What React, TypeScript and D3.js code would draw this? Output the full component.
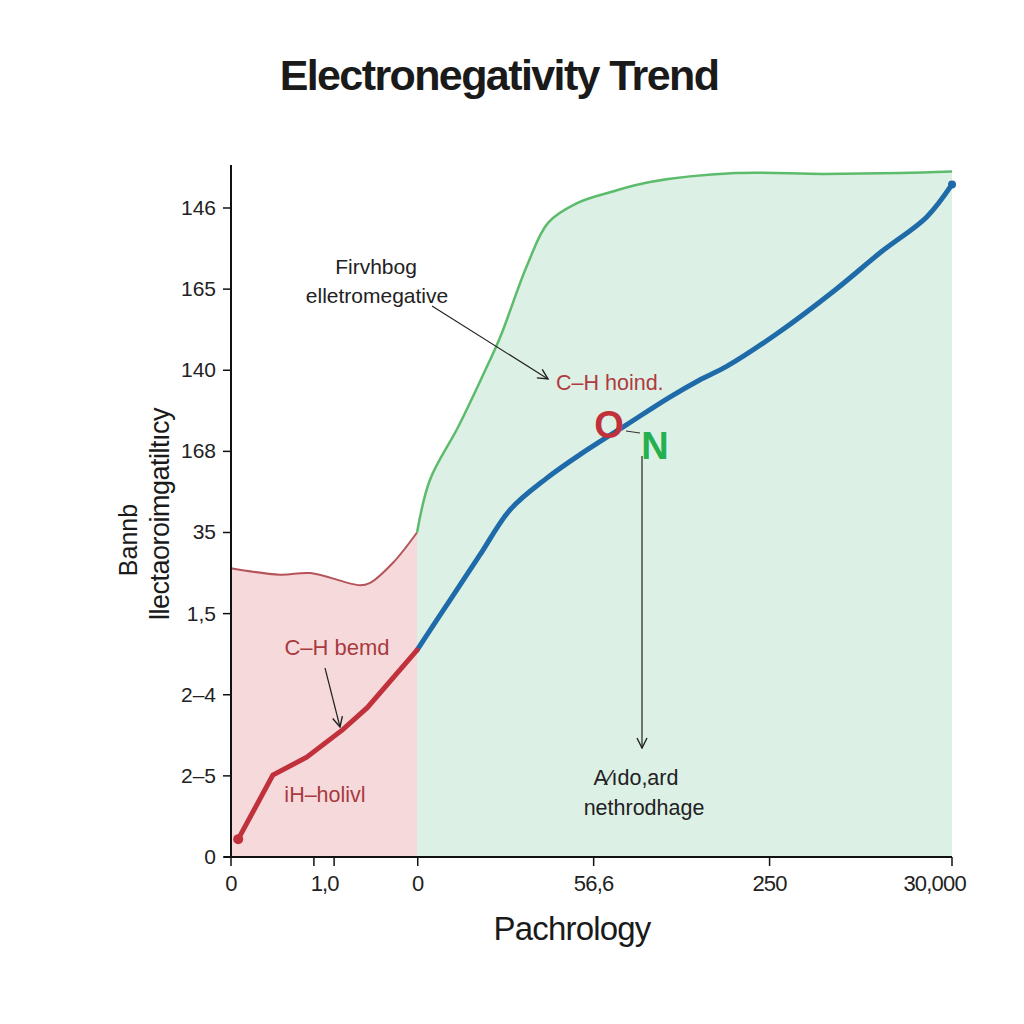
import React from "react";
import * as d3 from "d3";

const yTickValues = [0, 1, 2, 3, 4, 5, 6, 7, 8];
const yTickLabels = ["0", "2–5", "2–4", "1,5", "35", "168", "140", "165", "146"];
const xTickValues = [0, 11.5, 14.3, 25.9, 50.3, 74.7, 100];
const xLabelPos = [0, 13, 25.9, 50.3, 74.7, 97.6];
const xLabelText = ["0", "1,0", "0", "56,6", "250", "30,000"];

const redAreaTop: [number, number][] = [
  [0, 3.56], [6.8, 3.48], [11.0, 3.5], [17.9, 3.35], [19.3, 3.38], [22.5, 3.63], [25.8, 4.0],
];
const greenTop: [number, number][] = [
  [25.8, 4.0], [27.6, 4.65], [31.5, 5.3], [35.0, 5.95], [37.3, 6.4], [41.1, 7.3], [44.0, 7.82],
  [48.0, 8.06], [52.8, 8.2], [58.1, 8.32], [69.9, 8.43], [82.1, 8.42], [92.8, 8.43], [100, 8.45],
];
const blueLine: [number, number][] = [
  [25.8, 2.55], [30.4, 3.17], [34.5, 3.72], [38.7, 4.28], [43.8, 4.67], [48.4, 4.96],
  [54.9, 5.33], [60.7, 5.66], [65.0, 5.88], [68.8, 6.05], [75.7, 6.45], [83.8, 6.99],
  [90.2, 7.46], [96.5, 7.89], [100, 8.29],
];
const redLine: [number, number][] = [
  [1.0, 0.22], [5.8, 1.01], [10.5, 1.23], [15.5, 1.57], [18.9, 1.84], [25.8, 2.55],
];

export default function App() {
  const W = 1024, H = 1024;
  const x = d3.scaleLinear().domain([0, 100]).range([231, 952]);
  const y = d3.scaleLinear().domain([0, 8.53]).range([857, 165]);
  const smooth = d3.line<[number, number]>().x(d => x(d[0])).y(d => y(d[1])).curve(d3.curveCatmullRom.alpha(0.5));
  const lin = d3.line<[number, number]>().x(d => x(d[0])).y(d => y(d[1])).curve(d3.curveLinear);
  const area = d3.area<[number, number]>().x(d => x(d[0])).y0(y(0)).y1(d => y(d[1])).curve(d3.curveCatmullRom.alpha(0.5));
  const font = "'Liberation Sans', Arial, sans-serif";
  const last = blueLine[blueLine.length - 1];
  const first = redLine[0];
  return (
    <svg width={W} height={H} style={{ display: "block", position: "absolute", left: 0, top: 0 }} fontFamily={font}>
      <defs>
        <marker id="arr" viewBox="0 0 12 12" refX="11" refY="6" markerWidth="12" markerHeight="12" markerUnits="userSpaceOnUse" orient="auto">
          <path d="M1,1 L11,6 L1,11" fill="none" stroke="#222" strokeWidth="1.4" />
        </marker>
      </defs>
      <rect width={W} height={H} fill="#ffffff" />
      <text x={499} y={90} textAnchor="middle" fontSize={43} fontWeight="bold" letterSpacing={-1.6} fill="#1a1a1a">Electronegativity Trend</text>

      <path d={area(redAreaTop) || ""} fill="#f6dadb" />
      <path d={area(greenTop) || ""} fill="#dcf0e5" />
      <path d={smooth(redAreaTop) || ""} fill="none" stroke="#b5545a" strokeWidth={2} />
      <path d={smooth(greenTop) || ""} fill="none" stroke="#5dbb6c" strokeWidth={2.5} />
      <path d={smooth(blueLine) || ""} fill="none" stroke="#1f6aa8" strokeWidth={5} strokeLinecap="round" />
      <path d={lin(redLine) || ""} fill="none" stroke="#c1313c" strokeWidth={5} strokeLinecap="round" />
      <circle cx={x(first[0])} cy={y(first[1])} r={5} fill="#c1313c" />
      <circle cx={x(last[0])} cy={y(last[1])} r={4} fill="#1f6aa8" />

      {/* axes */}
      <line x1={231} x2={231} y1={y(8.53)} y2={y(0) + 1} stroke="#111" strokeWidth={2} />
      <line x1={224} x2={952} y1={y(0)} y2={y(0)} stroke="#111" strokeWidth={2} />
      {yTickValues.map((v, i) => (
        <g key={"y" + i}>
          <line x1={223} x2={231} y1={y(v)} y2={y(v)} stroke="#111" strokeWidth={1.5} />
          <text x={216} y={y(v) + 7} textAnchor="end" fontSize={21} fill="#222">{yTickLabels[i]}</text>
        </g>
      ))}
      {xTickValues.map((v, i) => (
        <line key={"xt" + i} x1={x(v)} x2={x(v)} y1={y(0)} y2={y(0) + 9} stroke="#111" strokeWidth={1.5} />
      ))}
      {xLabelPos.map((v, i) => (
        <text key={"xl" + i} x={x(v)} y={891} textAnchor="middle" fontSize={22} fill="#222" letterSpacing={-0.8}>{xLabelText[i]}</text>
      ))}
      <text x={572} y={940} textAnchor="middle" fontSize={33} fill="#1a1a1a" letterSpacing={-0.8}>Pachrology</text>
      <text transform="translate(137,540) rotate(-90)" textAnchor="middle" fontSize={25} fill="#1a1a1a">Bannb</text>
      <text transform="translate(169,514) rotate(-90)" textAnchor="middle" fontSize={27} fill="#1a1a1a" letterSpacing={-0.5}>llectaoroimgatiltıcy</text>

      {/* annotations */}
      <text x={376} y={274} textAnchor="middle" fontSize={21} fill="#222">Firvhbog</text>
      <text x={377} y={303} textAnchor="middle" fontSize={21} fill="#222">elletromegative</text>
      <line x1={432} x2={548} y1={306} y2={379} stroke="#222" strokeWidth={1.2} markerEnd="url(#arr)" />
      <text x={556} y={390} fontSize={21.5} fill="#b03a40">C–H hoind.</text>
      <text x={609} y={438} textAnchor="middle" fontSize={38} fontWeight="bold" fill="#c1313c">O</text>
      <text x={655} y={459} textAnchor="middle" fontSize={38} fontWeight="bold" fill="#25b04f">N</text>
      <line x1={626} x2={640} y1={431} y2={433} stroke="#333" strokeWidth={1.2} />
      <line x1={642} x2={642} y1={456} y2={748} stroke="#222" strokeWidth={1.2} markerEnd="url(#arr)" />
      <text x={636} y={785} textAnchor="middle" fontSize={21.5} fill="#222">A⁄ıdo,ard</text>
      <text x={644} y={815} textAnchor="middle" fontSize={21.5} fill="#222">nethrodhage</text>
      <text x={337} y={655} textAnchor="middle" fontSize={22} fill="#a83a40">C–H bemd</text>
      <line x1={325} x2={340} y1={668} y2={727} stroke="#222" strokeWidth={1.2} markerEnd="url(#arr)" />
      <text x={325} y={802} textAnchor="middle" fontSize={21.5} fill="#a83a40">iH–holivl</text>
    </svg>
  );
}
